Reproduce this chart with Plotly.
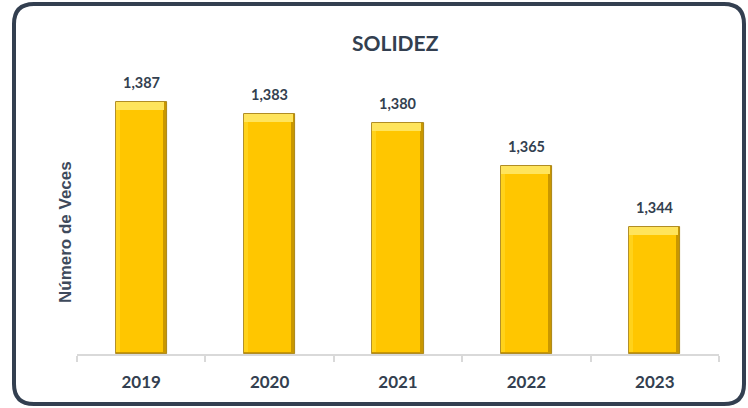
import plotly.graph_objects as go

years = ["2019", "2020", "2021", "2022", "2023"]
values = [1.387, 1.383, 1.380, 1.365, 1.344]
labels = ["1,387", "1,383", "1,380", "1,365", "1,344"]

W, H = 748, 408
L, R, T, B = 77, 29, 40, 54
Y0 = 1.30
PXU = 2893.0
Y1 = Y0 + (H - T - B) / PXU

NAVY = "#333F50"
BW = 0.40
bevel = 8 / PXU
side = 0.032
bot = 2 / PXU

fig = go.Figure()
# outer dark edge
fig.add_trace(go.Bar(x=years, y=[v - Y0 for v in values], base=Y0, width=BW,
                     marker=dict(color="#C99700", line=dict(color="#9C7500", width=0.8)),
                     hoverinfo="skip", showlegend=False))
# left lighter edge
fig.add_trace(go.Bar(x=years, y=[v - Y0 - bot for v in values], base=Y0 + bot,
                     width=BW - side, offset=-BW / 2,
                     marker=dict(color="#FFD21A", line=dict(width=0)),
                     hoverinfo="skip", showlegend=False))
# main face
fig.add_trace(go.Bar(x=years, y=[v - Y0 - bot - bevel for v in values], base=Y0 + bot,
                     width=BW - 2 * side, offset=-BW / 2 + side,
                     marker=dict(color="#FFC600", line=dict(width=0)),
                     hoverinfo="skip", showlegend=False))
# top bevel
fig.add_trace(go.Bar(x=years, y=[bevel] * len(values), base=[v - bevel for v in values],
                     width=BW - side * 0.6, offset=-BW / 2,
                     marker=dict(color="#FFE45C", line=dict(width=0)),
                     hoverinfo="skip", showlegend=False))

for i, (v, lab) in enumerate(zip(values, labels)):
    fig.add_annotation(x=i, y=v, text=lab, showarrow=False, yanchor="bottom", yshift=9,
                       font=dict(family="Lato", size=14.5, color=NAVY, weight="bold"))


def px(xp):
    return (xp - L) / (W - L - R)


def py(yp):
    return (H - B - yp) / (H - T - B)


x0, x1, y0, y1, r = 14, 744, 4, 404, 20
path = (f"M {px(x0 + r)},{py(y0)} L {px(x1 - r)},{py(y0)} "
        f"Q {px(x1)},{py(y0)} {px(x1)},{py(y0 + r)} "
        f"L {px(x1)},{py(y1 - r)} Q {px(x1)},{py(y1)} {px(x1 - r)},{py(y1)} "
        f"L {px(x0 + r)},{py(y1)} Q {px(x0)},{py(y1)} {px(x0)},{py(y1 - r)} "
        f"L {px(x0)},{py(y0 + r)} Q {px(x0)},{py(y0)} {px(x0 + r)},{py(y0)} Z")
fig.add_shape(type="path", path=path, xref="paper", yref="paper",
              line=dict(color=NAVY, width=4), fillcolor="rgba(0,0,0,0)", layer="above")

fig.add_annotation(text="SOLIDEZ", x=px(395), y=py(42), xref="paper", yref="paper",
                   showarrow=False, xanchor="center", yanchor="middle",
                   font=dict(family="Lato", size=21, color=NAVY, weight="bold"))
fig.add_annotation(text="Número de Veces", x=px(65), y=py(232), xref="paper", yref="paper",
                   showarrow=False, textangle=-90, xanchor="center", yanchor="middle",
                   font=dict(family="Liberation Sans", size=17, color="#3E4A5C", weight="bold"))

fig.update_layout(
    width=W, height=H, barmode="overlay", bargap=0,
    margin=dict(l=L, r=R, t=T, b=B, autoexpand=False),
    paper_bgcolor="white", plot_bgcolor="white",
    xaxis=dict(type="category", range=[-0.5, len(years) - 0.5], showline=True,
               linecolor="#D9D9D9", linewidth=1.5,
               ticks="outside", tickson="boundaries", ticklen=6, tickcolor="#D9D9D9",
               tickwidth=1.5, showgrid=False, fixedrange=True, automargin=False,
               ticklabelstandoff=12,
               tickfont=dict(family="Lato", size=17, color=NAVY, weight="bold")),
    yaxis=dict(range=[Y0, Y1], visible=False, showgrid=False, fixedrange=True),
)

fig.write_html("out.html", config={"displayModeBar": False},
               post_script="document.body.style.margin='0';document.body.style.padding='0';")
